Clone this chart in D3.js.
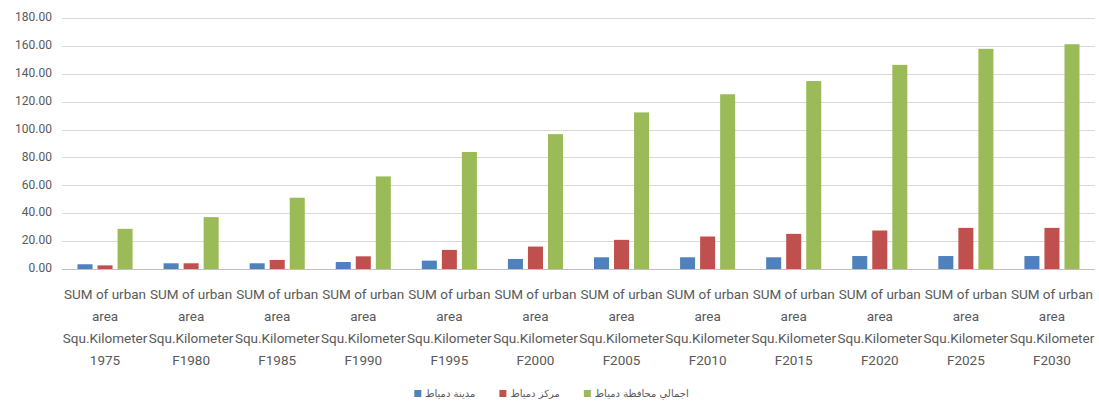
<!DOCTYPE html>
<html>
<head>
<meta charset="utf-8">
<script src="https://cdn.jsdelivr.net/npm/d3@7"></script>
<style>
  html, body { margin: 0; padding: 0; background: #fff; }
  svg { display: block; }
</style>
</head>
<body>
<svg id="chart" width="1099" height="405"></svg>
<script>
const years = ['1975', 'F1980', 'F1985', 'F1990', 'F1995', 'F2000', 'F2005', 'F2010', 'F2015', 'F2020', 'F2025', 'F2030'];
const cityValues = [3.4, 4.1, 4.1, 5.0, 6.0, 7.2, 8.4, 8.4, 8.4, 9.3, 9.3, 9.3];
const centerValues = [2.6, 4.1, 6.5, 9.1, 13.7, 16.1, 20.9, 23.3, 25.2, 27.6, 29.5, 29.5];
const governorateValues = [28.8, 37.2, 51.1, 66.4, 83.9, 96.7, 112.3, 125.3, 134.8, 146.4, 157.9, 161.2];
const seriesNames = ['مدينة دمياط', 'مركز دمياط', 'اجمالي محافظة دمياط'];
const seriesColors = ['#4f81bd', '#c0504d', '#9bbb59'];
const yTicks = [0, 20, 40, 60, 80, 100, 120, 140, 160, 180];
const labelLines = ['SUM of urban', 'area', 'Squ.Kilometer'];

const svg = d3.select('#chart');
const textGrey = '#595959';
const labelFont = 'Roboto, "Open Sans", sans-serif';

const margin = { left: 62, right: 4, top: 18, bottom: 136 };
const WIDTH = 1099, HEIGHT = 405;

const x = d3.scaleBand()
    .domain(years)
    .range([margin.left, WIDTH - margin.right])
    .paddingInner(0.36)
    .paddingOuter(0.18);

const xInner = d3.scaleBand()
    .domain([0, 1, 2])
    .range([0, x.bandwidth()])
    .paddingInner(0.25);

const y = d3.scaleLinear()
    .domain([0, 180])
    .range([269, 18]);

// gridlines
svg.append('g')
    .selectAll('line')
    .data(yTicks)
    .join('line')
    .attr('x1', margin.left)
    .attr('x2', WIDTH - margin.right)
    .attr('y1', d => Math.round(y(d)) + 0.5)
    .attr('y2', d => Math.round(y(d)) + 0.5)
    .attr('stroke', d => d === 0 ? '#bfbfbf' : '#d9d9d9')
    .attr('stroke-width', 1);

// y labels
svg.append('g')
    .selectAll('text')
    .data(yTicks)
    .join('text')
    .attr('x', 52)
    .attr('y', d => y(d))
    .attr('text-anchor', 'end')
    .attr('dominant-baseline', 'middle')
    .style('font-family', labelFont)
    .style('font-size', '12px')
    .style('fill', textGrey)
    .text(d => d3.format('.2f')(d));

// bars
const allSeries = [cityValues, centerValues, governorateValues];
const groups = svg.append('g')
    .selectAll('g')
    .data(years)
    .join('g')
    .attr('transform', d => `translate(${x(d)},0)`);

groups.selectAll('rect')
    .data((d, i) => allSeries.map((s, k) => ({ k, v: s[i] })))
    .join('rect')
    .attr('x', d => xInner(d.k))
    .attr('width', xInner.bandwidth())
    .attr('y', d => y(d.v))
    .attr('height', d => y(0) - y(d.v))
    .attr('fill', d => seriesColors[d.k]);

// x labels
const xl = svg.append('g');
years.forEach(yr => {
    const cx = x(yr) + x.bandwidth() / 2;
    const t = xl.append('text')
        .attr('text-anchor', 'middle')
        .style('font-family', labelFont)
        .style('font-size', '13.5px')
        .style('fill', textGrey);
    labelLines.concat([yr]).forEach((line, i) => {
        t.append('tspan')
            .attr('x', cx)
            .attr('y', 299 + i * 22)
            .text(line);
    });
});

// legend
const legend = svg.append('g');
let lx = 0;
seriesNames.forEach((name, i) => {
    const g = legend.append('g');
    g.append('rect')
        .attr('x', 0).attr('y', -4)
        .attr('width', 7).attr('height', 7)
        .attr('fill', seriesColors[i]);
    const t = g.append('text')
        .attr('x', 11)
        .attr('y', 0)
        .attr('dominant-baseline', 'middle')
        .style('font-family', '"DejaVu Sans", sans-serif')
        .style('font-size', '10px')
        .style('fill', textGrey)
        .text(name);
    const w = 11 + t.node().getComputedTextLength();
    g.attr('transform', `translate(${lx},0)`);
    lx += w + 24;
});
const legendWidth = lx - 24;
legend.attr('transform', `translate(${(WIDTH - legendWidth) / 2 + 2},394)`);
</script>
</body>
</html>
